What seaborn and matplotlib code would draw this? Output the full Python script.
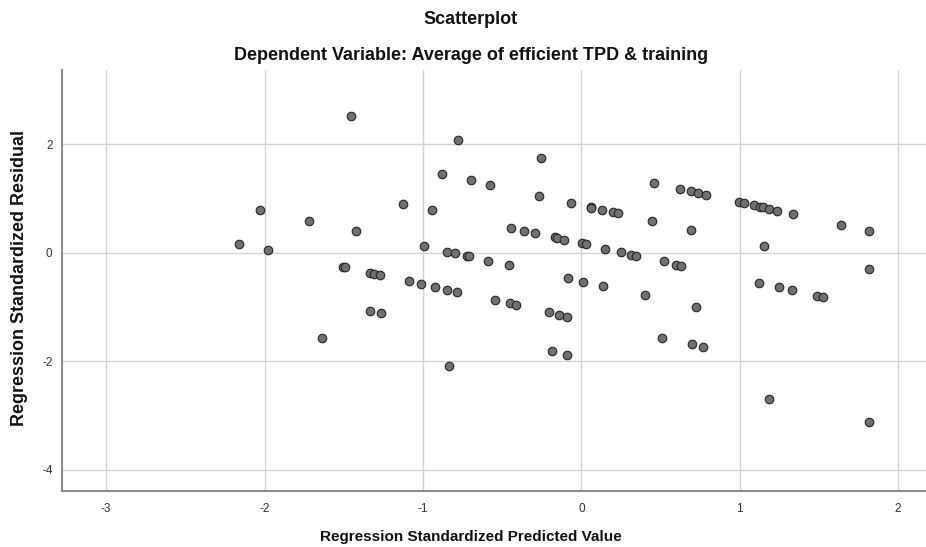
import matplotlib
matplotlib.use("Agg")
import matplotlib.pyplot as plt
import seaborn as sns
import pandas as pd

# Regression standardized predicted values (x) and standardized residuals (y)
predicted = [
    -1.454, -2.028, -1.719, -1.422, -2.159, -1.980, -1.506, -1.490, -1.637,
    -0.778, -0.256, -0.881, -0.696, -0.574, -0.265, -0.067, -1.126, -0.941,
    -0.446, -0.364, -0.292, -0.166, -0.152, -0.107, 0.006, 0.028, -0.993,
    -0.848, -0.797, -0.723, -0.707, -0.589, -0.458, -1.332, -1.307, -1.269,
    -1.090, -1.012, -0.924, -0.850, -0.787, -0.086, 0.013,
    -0.543, -0.452, -0.414, -0.204, -0.141, -0.090, -1.332, -1.263, -0.183,
    -0.088, -0.837,
    0.461, 0.625, 0.690, 0.735, 0.787, 0.059, 0.063, 0.133, 0.202, 0.234,
    0.446, 0.693, 0.994, 1.027, 1.090, 1.128, 1.145, 1.187, 1.237, 1.334,
    1.151, 0.150, 0.253, 0.314, 0.345, 0.524, 0.596, 0.628, 0.135, 0.400,
    0.722, 1.124, 1.250, 1.332, 1.490, 1.528,
    0.507, 0.697, 0.766, 1.187,
    1.638, 1.816, 1.816, 1.816,
]
residual = [
    2.52, 0.78, 0.585, 0.395, 0.166, 0.05, -0.258, -0.258, -1.58,
    2.085, 1.747, 1.452, 1.336, 1.249, 1.046, 0.923, 0.905, 0.788,
    0.461, 0.406, 0.363, 0.284, 0.277, 0.24, 0.173, 0.16, 0.118,
    0.018, -0.011, -0.061, -0.066, -0.148, -0.227, -0.369, -0.387, -0.411,
    -0.528, -0.578, -0.638, -0.688, -0.725, -0.473, -0.541,
    -0.879, -0.934, -0.965, -1.100, -1.143, -1.18, -1.070, -1.118, -1.82,
    -1.882, -2.096,
    1.28, 1.175, 1.133, 1.10, 1.07, 0.843, 0.830, 0.788, 0.745, 0.727,
    0.585, 0.425, 0.935, 0.917, 0.874, 0.849, 0.843, 0.806, 0.775, 0.714,
    0.129, 0.074, 0.007, -0.037, -0.055, -0.159, -0.221, -0.240, -0.620, -0.786,
    -0.996, -0.559, -0.638, -0.694, -0.799, -0.817,
    -1.568, -1.684, -1.734, -2.705,
    0.517, 0.40, -0.307, -3.124,
]
x_ticks = [-3, -2, -1, 0, 1, 2]
y_ticks = [2, 0, -2, -4]

title = "Scatterplot"
subtitle = "Dependent Variable: Average of efficient TPD & training"
x_label = "Regression Standardized Predicted Value"
y_label = "Regression Standardized Residual"

df = pd.DataFrame({"pred": predicted, "resid": residual})

sns.set_style("white")
plt.rcParams["font.family"] = ["Liberation Sans", "DejaVu Sans"]

fig = plt.figure(figsize=(9.26, 5.47), dpi=100)
ax = fig.add_axes([62.3 / 926, 1 - 490.5 / 547, 1 - 62.3 / 926, (490.5 - 70) / 547])

sns.scatterplot(data=df, x="pred", y="resid", ax=ax, s=38, color="#707070",
                edgecolor="#262626", linewidth=0.8, zorder=3, legend=False)

ax.set_xlim(-3.277, 2.176)
ax.set_ylim(-4.387, 3.371)
ax.set_xticks(x_ticks)
ax.set_yticks(y_ticks)
ax.set_xticklabels([str(t) for t in x_ticks])
ax.set_yticklabels([str(t) for t in y_ticks])
ax.grid(True, color="#d2d2d2", linewidth=1.0, zorder=0)
ax.set_axisbelow(True)
ax.tick_params(axis="both", length=0, labelsize=8.5, colors="#333333")
ax.tick_params(axis="x", pad=9)
ax.tick_params(axis="y", pad=7)
for side in ["top", "right"]:
    ax.spines[side].set_visible(False)
for side in ["left", "bottom"]:
    ax.spines[side].set_color("#8c8c8c")
    ax.spines[side].set_linewidth(1.5)
ax.set_xlabel("")
ax.set_ylabel("")

fig.text(471 / 926, 1 - 20 / 547, title, ha="center", va="center",
         fontsize=13, fontweight="bold", color="#111111")
fig.text(471 / 926, 1 - 55 / 547, subtitle, ha="center", va="center",
         fontsize=13, fontweight="bold", color="#111111")
fig.text(471 / 926, 1 - 537 / 547, x_label, ha="center", va="center",
         fontsize=11, fontweight="bold", color="#111111")
fig.text(20 / 926, 1 - 278 / 547, y_label, ha="center", va="center",
         rotation=90, fontsize=12.9, fontweight="bold", color="#111111")

fig.savefig("out.png", dpi=100)
